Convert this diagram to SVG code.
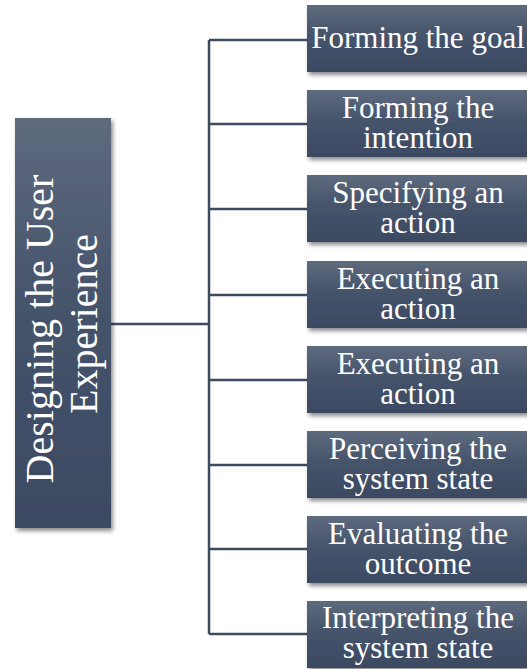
<svg xmlns="http://www.w3.org/2000/svg" width="527" height="669" viewBox="0 0 527 669">
  <defs>
    <linearGradient id="boxFill" x1="0" y1="0" x2="0" y2="1">
      <stop offset="0" stop-color="#5e6a7e"/>
      <stop offset="0.45" stop-color="#46546b"/>
      <stop offset="1" stop-color="#3b4962"/>
    </linearGradient>
    <filter id="shadow" x="-10%" y="-10%" width="130%" height="130%">
      <feDropShadow dx="2" dy="3" stdDeviation="2" flood-color="#000" flood-opacity="0.45"/>
    </filter>
  </defs>
  <style>
    .box { fill: url(#boxFill); filter: url(#shadow); }
    .lbl { font-family: "Liberation Serif", "Times New Roman", serif; font-size: 31px; fill: #ffffff; text-anchor: middle; }
    .root { font-size: 40px; }
    .conn { stroke: #3d4b61; stroke-width: 2.5; fill: none; }
  </style>
  <rect width="527" height="669" fill="#ffffff"/>

  <!-- connectors -->
  <g id="connectors">
    <path class="conn" d="M110 324 H209"/>
    <path class="conn" d="M209 40 V634"/>
    <path class="conn" d="M209 40 H307"/>
    <path class="conn" d="M209 124 H307"/>
    <path class="conn" d="M209 209 H307"/>
    <path class="conn" d="M209 295 H307"/>
    <path class="conn" d="M209 380 H307"/>
    <path class="conn" d="M209 465 H307"/>
    <path class="conn" d="M209 549 H307"/>
    <path class="conn" d="M209 634 H307"/>
  </g>

  <!-- root node -->
  <g id="root">
    <rect class="box" x="15" y="118" width="96" height="410"/>
    <text class="lbl root" transform="translate(62,324) rotate(-90)">
      <tspan x="0" y="-9">Designing the User</tspan>
      <tspan x="0" y="35">Experience</tspan>
    </text>
  </g>

  <!-- stage nodes -->
  <g id="n1">
    <rect class="box" x="307" y="5" width="224" height="67"/>
    <text class="lbl" x="418" y="48">Forming the goal</text>
  </g>
  <g id="n2">
    <rect class="box" x="307" y="90" width="224" height="67"/>
    <text class="lbl"><tspan x="418" y="118">Forming the</tspan><tspan x="418" y="148">intention</tspan></text>
  </g>
  <g id="n3">
    <rect class="box" x="307" y="175" width="224" height="67"/>
    <text class="lbl"><tspan x="418" y="203">Specifying an</tspan><tspan x="418" y="233">action</tspan></text>
  </g>
  <g id="n4">
    <rect class="box" x="307" y="261" width="224" height="67"/>
    <text class="lbl"><tspan x="418" y="289">Executing an</tspan><tspan x="418" y="319">action</tspan></text>
  </g>
  <g id="n5">
    <rect class="box" x="307" y="346" width="224" height="67"/>
    <text class="lbl"><tspan x="418" y="374">Executing an</tspan><tspan x="418" y="404">action</tspan></text>
  </g>
  <g id="n6">
    <rect class="box" x="307" y="431" width="224" height="67"/>
    <text class="lbl"><tspan x="418" y="459">Perceiving the</tspan><tspan x="418" y="489">system state</tspan></text>
  </g>
  <g id="n7">
    <rect class="box" x="307" y="516" width="224" height="67"/>
    <text class="lbl"><tspan x="418" y="544">Evaluating the</tspan><tspan x="418" y="574">outcome</tspan></text>
  </g>
  <g id="n8">
    <rect class="box" x="307" y="601" width="224" height="67"/>
    <text class="lbl"><tspan x="418" y="628">Interpreting the</tspan><tspan x="418" y="658">system state</tspan></text>
  </g>
</svg>
